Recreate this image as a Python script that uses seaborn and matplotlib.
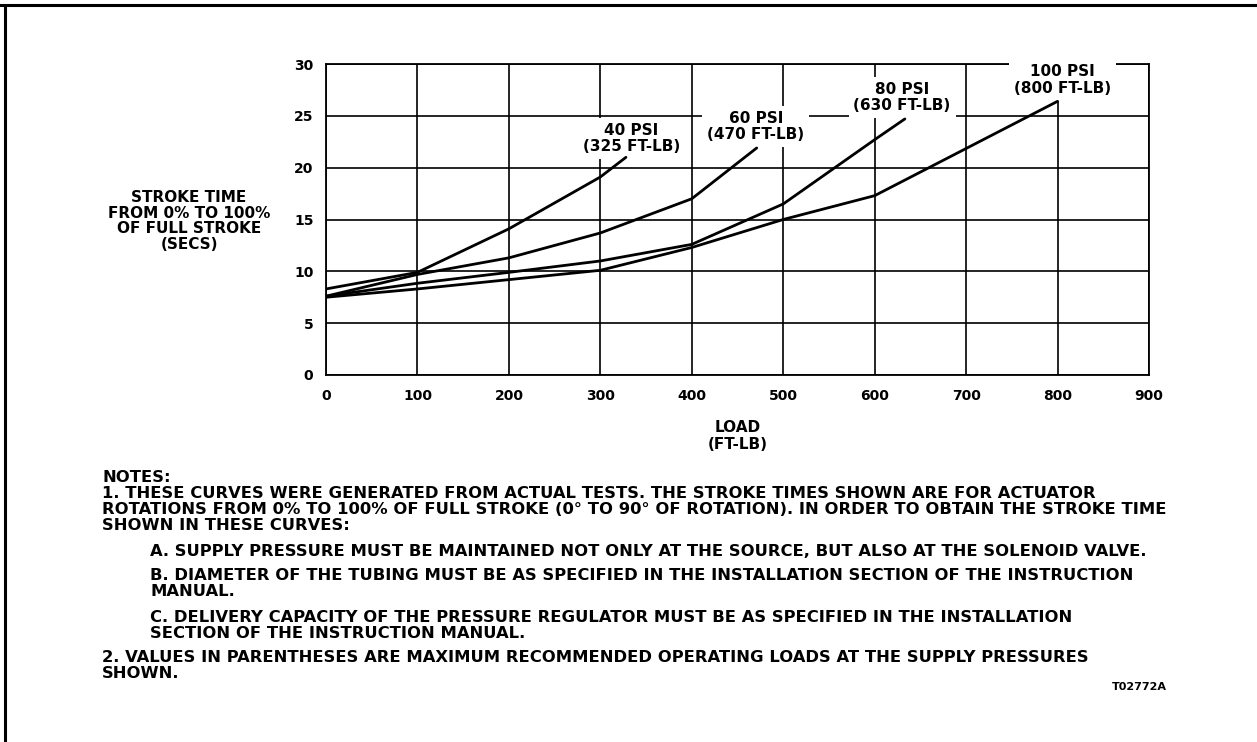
import seaborn as sns
import matplotlib.pyplot as plt
import pandas as pd
from matplotlib.lines import Line2D

# curvas
load_40 = [0, 100, 200, 300, 328]
time_40 = [8.3, 9.9, 14.1, 19.1, 21.0]
load_60 = [0, 100, 200, 300, 400, 471]
time_60 = [7.6, 9.7, 11.3, 13.7, 17.0, 21.9]
load_80 = [0, 100, 200, 300, 400, 500, 600, 633]
time_80 = [7.6, 8.85, 9.9, 11.0, 12.6, 16.5, 22.7, 24.7]
load_100 = [0, 100, 200, 300, 400, 500, 600, 800]
time_100 = [7.5, 8.3, 9.2, 10.1, 12.3, 15.0, 17.3, 26.4]

series = ["40 PSI", "60 PSI", "80 PSI", "100 PSI"]
max_loads = ["(325 FT-LB)", "(470 FT-LB)", "(630 FT-LB)", "(800 FT-LB)"]
label_x = [334, 470, 630, 805]
label_y = [22.8, 24.0, 26.8, 28.45]

x_ticks = [0, 100, 200, 300, 400, 500, 600, 700, 800, 900]
y_ticks = [0, 5, 10, 15, 20, 25, 30]

notes = [
    "NOTES:",
    "1. THESE CURVES WERE GENERATED FROM ACTUAL TESTS. THE STROKE TIMES SHOWN ARE FOR ACTUATOR",
    "ROTATIONS FROM 0% TO 100% OF FULL STROKE (0\u00b0 TO 90\u00b0 OF ROTATION). IN ORDER TO OBTAIN THE STROKE TIME",
    "SHOWN IN THESE CURVES:",
    "A. SUPPLY PRESSURE MUST BE MAINTAINED NOT ONLY AT THE SOURCE, BUT ALSO AT THE SOLENOID VALVE.",
    "B. DIAMETER OF THE TUBING MUST BE AS SPECIFIED IN THE INSTALLATION SECTION OF THE INSTRUCTION",
    "MANUAL.",
    "C. DELIVERY CAPACITY OF THE PRESSURE REGULATOR MUST BE AS SPECIFIED IN THE INSTALLATION",
    "SECTION OF THE INSTRUCTION MANUAL.",
    "2. VALUES IN PARENTHESES ARE MAXIMUM RECOMMENDED OPERATING LOADS AT THE SUPPLY PRESSURES",
    "SHOWN.",
]
notes_indent = [0, 0, 0, 0, 1, 1, 1, 1, 1, 0, 0]
notes_ypx = [477, 494, 510, 526, 551, 576, 592, 617, 633, 657, 673]

df = pd.concat([
    pd.DataFrame({"load": load_40, "time": time_40, "psi": "40 PSI"}),
    pd.DataFrame({"load": load_60, "time": time_60, "psi": "60 PSI"}),
    pd.DataFrame({"load": load_80, "time": time_80, "psi": "80 PSI"}),
    pd.DataFrame({"load": load_100, "time": time_100, "psi": "100 PSI"}),
])

sns.set_style("white")
plt.rcParams["font.family"] = ["DejaVu Sans"]
plt.rcParams["font.weight"] = "bold"
plt.rcParams["text.color"] = "black"
plt.rcParams["xtick.color"] = "black"
plt.rcParams["ytick.color"] = "black"

W, H = 1257, 742
fig = plt.figure(figsize=(W / 100, H / 100), dpi=100)
ax = fig.add_axes([326 / W, 1 - 375 / H, 823 / W, 311 / H])

sns.lineplot(data=df, x="load", y="time", hue="psi", palette=["black"] * 4,
             estimator=None, sort=False, legend=False, linewidth=2.0, ax=ax, zorder=2)

ax.set_xlim(0, 900)
ax.set_ylim(0, 30)
ax.set_xticks(x_ticks)
ax.set_yticks(y_ticks)
ax.grid(True, color="black", linewidth=1.2)
ax.set_axisbelow(True)
ax.tick_params(length=0, labelsize=10, labelcolor="black")
ax.tick_params(axis="x", pad=10)
ax.tick_params(axis="y", pad=9)
for lab in ax.get_xticklabels() + ax.get_yticklabels():
    lab.set_fontweight("bold")
ax.set_xlabel("")
ax.set_ylabel("")
for s in ["left", "bottom", "right"]:
    ax.spines[s].set_color("black")
    ax.spines[s].set_linewidth(1.3)
ax.spines["top"].set_visible(False)
ax.axhline(30, color="black", linewidth=1.3, clip_on=False, zorder=1)

for name, mx, lx, ly in zip(series, max_loads, label_x, label_y):
    ax.text(lx, ly, name + "\n" + mx, ha="center", va="center", fontsize=11,
            fontweight="bold", linespacing=1.1, zorder=1.5, clip_on=False,
            bbox=dict(boxstyle="square,pad=0.32", fc="white", ec="none"))

fig.text(189 / W, 1 - 221 / H, "STROKE TIME\nFROM 0% TO 100%\nOF FULL STROKE\n(SECS)",
         ha="center", va="center", fontsize=11, fontweight="bold", linespacing=1.05)
fig.text(738 / W, 1 - 436 / H, "LOAD\n(FT-LB)", ha="center", va="center",
         fontsize=11, fontweight="bold", linespacing=1.15)

for txt, ind, ypx in zip(notes, notes_indent, notes_ypx):
    x0 = 150 if ind else 102
    fig.text(x0 / W, 1 - ypx / H, txt, ha="left", va="center", fontsize=11.8,
             fontweight="bold")
fig.text(1167 / W, 1 - 687 / H, "T02772A", ha="right", va="center",
         fontsize=8, fontweight="bold")

# marco del documento
fig.add_artist(Line2D([0, 1], [1 - 5 / H, 1 - 5 / H], transform=fig.transFigure,
                      color="black", linewidth=2.2))
fig.add_artist(Line2D([5 / W, 5 / W], [0, 1 - 5 / H], transform=fig.transFigure,
                      color="black", linewidth=2.2))

fig.savefig("out.png", dpi=100, facecolor="white")
